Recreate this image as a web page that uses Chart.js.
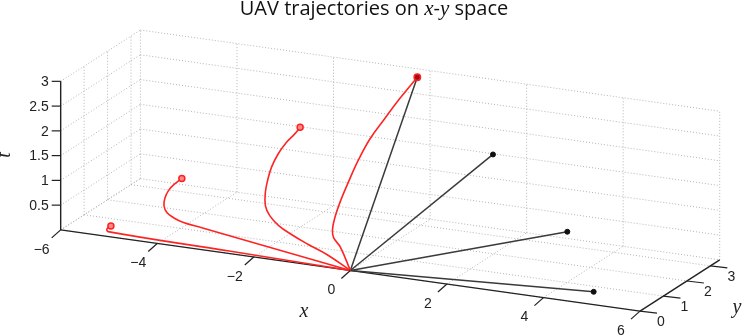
<!DOCTYPE html>
<html>
<head>
<meta charset="utf-8">
<script src="https://cdn.jsdelivr.net/npm/chart.js@4"></script>
<style>
html,body{margin:0;padding:0;background:#fff;}
#wrap{width:746px;height:336px;position:relative;}
</style>
</head>
<body>
<div id="wrap"><canvas id="chart"></canvas></div>
<script>
// axis limits and ticks
const xLim = [-6, 6], yLim = [0, 3.4], zLim = [0, 3];
const xTicks = [-6, -4, -2, 0, 2, 4, 6];
const yTicks = [0, 1, 2, 3];
const zTicks = [0.5, 1, 1.5, 2, 2.5, 3];
const zGrid = [0, 0.5, 1, 1.5, 2, 2.5, 3];

// red trajectories
const red1X = [0, -2.51, -5.02, -5.04, -4.96];
const red1Y = [0, 0, 0, 0, 0];
const red1Z = [0, 0.05, 0.10, 0.15, 0.22];

const red2X = [0, -1.73, -3.06, -3.47, -3.67, -3.80, -3.86, -3.84, -3.76, -3.63, -3.49];
const red2Y = [0, 0, 0, 0, 0, 0, 0, 0, 0, 0, 0];
const red2Z = [0, 0.25, 0.44, 0.50, 0.57, 0.65, 0.78, 0.94, 1.11, 1.26, 1.38];

const red3X = [0, -0.47, -0.88, -1.22, -1.49, -1.67, -1.76, -1.76, -1.71, -1.63, -1.49, -1.33, -1.16, -1.04];
const red3Y = [0, 0, 0, 0, 0, 0, 0, 0, 0, 0, 0, 0, 0, 0];
const red3Z = [0, 0.25, 0.41, 0.56, 0.71, 0.88, 1.07, 1.34, 1.60, 1.87, 2.16, 2.40, 2.59, 2.75];

const red4X = [0, -0.35, -0.59, -0.71, -0.81, -0.84, -0.82, -0.76, -0.66, -0.50, -0.32, -0.07];
const red4Y = [0, 0.3, 0.5, 0.7, 1.0, 1.3, 1.6, 1.9, 2.2, 2.5, 2.75, 3.0];
const red4Z = [0, 0.33, 0.43, 0.51, 0.64, 0.88, 1.18, 1.54, 1.90, 2.24, 2.58, 2.98];

// straight (black) trajectories: end points, all start at origin
const blackEndX = [4.70, 3.28, 1.74, -0.07];
const blackEndY = [0.7, 2.5, 2.5, 3.0];
const blackEndZ = [0, 0.47, 1.82, 2.98];

// view (orthographic projection onto the page)
const view = {ox: 350, oy: 274, xx: 49, xy: 7, yx: 23.8, yy: -15.6, zy: -51.2};
function proj(x, y, z) {
    return {x: view.ox + view.xx * x + view.yx * y, y: view.oy + view.xy * x + view.yy * y + view.zy * z};
}
function path(xs, ys, zs) {
    return xs.map((v, i) => proj(v, ys[i], zs[i]));
}

const datasets = [];
function seg(a, b, color, width, dash, order) {
    datasets.push({data: [proj(a[0], a[1], a[2]), proj(b[0], b[1], b[2])], borderColor: color,
        borderWidth: width, borderDash: dash, pointRadius: 0, showLine: true, order: order, tension: 0});
}

// grid on back wall, left wall and floor
const gridColor = '#b4b4b4';
xTicks.forEach(x => {
    seg([x, yLim[1], zLim[0]], [x, yLim[1], zLim[1]], gridColor, 1, [1, 2], 20);
    seg([x, yLim[0], zLim[0]], [x, yLim[1], zLim[0]], gridColor, 1, [1, 2], 20);
});
zGrid.forEach(z => {
    seg([xLim[0], yLim[1], z], [xLim[1], yLim[1], z], gridColor, 1, [1, 2], 20);
    seg([xLim[0], yLim[0], z], [xLim[0], yLim[1], z], gridColor, 1, [1, 2], 20);
});
yTicks.forEach(y => {
    seg([xLim[0], y, zLim[0]], [xLim[0], y, zLim[1]], gridColor, 1, [1, 2], 20);
    seg([xLim[0], y, zLim[0]], [xLim[1], y, zLim[0]], gridColor, 1, [1, 2], 20);
});

// axis lines
seg([xLim[0], yLim[0], zLim[0]], [xLim[1], yLim[0], zLim[0]], '#222', 1.4, [], 10);
seg([xLim[1], yLim[0], zLim[0]], [xLim[1], yLim[1], zLim[0]], '#222', 1.4, [], 10);
seg([xLim[0], yLim[0], zLim[0]], [xLim[0], yLim[0], zLim[1]], '#222', 1.4, [], 10);

// black straight lines
blackEndX.forEach((x, i) => seg([0, 0, 0], [x, blackEndY[i], blackEndZ[i]], '#3a3a3a', 1.5, [], 5));

// red curves
[[red1X, red1Y, red1Z], [red2X, red2Y, red2Z], [red3X, red3Y, red3Z], [red4X, red4Y, red4Z]].forEach(r => {
    datasets.push({data: path(r[0], r[1], r[2]), borderColor: '#ff2424', borderWidth: 1.6,
        pointRadius: 0, showLine: true, tension: 0.4, order: 2});
});

// end markers
datasets.push({data: [0, 1, 2].map(i => proj(blackEndX[i], blackEndY[i], blackEndZ[i])),
    pointRadius: 2.5, pointBackgroundColor: '#111', pointBorderColor: '#111', showLine: false, order: 1});
datasets.push({data: [[red1X, red1Y, red1Z], [red2X, red2Y, red2Z], [red3X, red3Y, red3Z]].map(r => {
        const n = r[0].length - 1;
        return proj(r[0][n], r[1][n], r[2][n]);
    }),
    pointRadius: 3, pointBackgroundColor: '#ff8a8a', pointBorderColor: '#ff2020', pointBorderWidth: 1.5,
    showLine: false, order: 0});
datasets.push({data: [proj(red4X[11], red4Y[11], red4Z[11])],
    pointRadius: 3.2, pointBackgroundColor: '#a01010', pointBorderColor: '#ff2020', pointBorderWidth: 1.5,
    showLine: false, order: 0});

const fmt = v => (v < 0 ? '\u2212' + Math.abs(v) : String(v));

const axisText = {
    id: 'axisText',
    afterDraw(chart) {
        const ctx = chart.ctx, sx = chart.scales.x, sy = chart.scales.y;
        const px = p => ({x: sx.getPixelForValue(p.x), y: sy.getPixelForValue(p.y)});
        ctx.save();
        ctx.strokeStyle = '#222';
        ctx.lineWidth = 1.2;
        ctx.fillStyle = '#222';
        ctx.font = '14px "Liberation Sans", Arial, sans-serif';
        // x ticks
        ctx.textAlign = 'center';
        ctx.textBaseline = 'middle';
        xTicks.forEach(t => {
            const p = px(proj(t, yLim[0], zLim[0]));
            ctx.beginPath(); ctx.moveTo(p.x, p.y); ctx.lineTo(p.x - 9, p.y + 8); ctx.stroke();
            ctx.fillText(fmt(t), p.x - 19, p.y + 20);
        });
        // y ticks
        yTicks.forEach(t => {
            const p = px(proj(xLim[1], t, zLim[0]));
            ctx.beginPath(); ctx.moveTo(p.x, p.y); ctx.lineTo(p.x + 17, p.y + 2); ctx.stroke();
            ctx.fillText(fmt(t), p.x + 21, p.y + 11);
        });
        // z ticks
        ctx.textAlign = 'right';
        zTicks.forEach(t => {
            const p = px(proj(xLim[0], yLim[0], t));
            ctx.beginPath(); ctx.moveTo(p.x, p.y); ctx.lineTo(p.x - 9, p.y); ctx.stroke();
            ctx.fillText(fmt(t), p.x - 12, p.y + 1);
        });
        // axis labels
        ctx.textAlign = 'center';
        ctx.font = 'italic 20px "Liberation Serif", serif';
        ctx.fillText('x', 304, 312);
        ctx.fillText('y', 737, 308);
        ctx.save();
        ctx.translate(5, 155);
        ctx.rotate(-Math.PI / 2);
        ctx.fillText('t', 0, 0);
        ctx.restore();
        // title with math part
        const sans = '20px "Open Sans", sans-serif', math = 'italic 21px "Liberation Serif", serif';
        const parts = [['UAV trajectories on ', sans], ['x', math], ['-', sans], ['y', math], [' space', sans]];
        let w = 0;
        parts.forEach(p => { ctx.font = p[1]; w += ctx.measureText(p[0]).width; });
        let x = 374 - w / 2;
        ctx.textAlign = 'left';
        ctx.textBaseline = 'alphabetic';
        ctx.fillStyle = '#111';
        parts.forEach(p => { ctx.font = p[1]; ctx.fillText(p[0], x, 15); x += ctx.measureText(p[0]).width; });
        ctx.restore();
    }
};

new Chart(document.getElementById('chart'), {
    type: 'scatter',
    data: {datasets: datasets},
    options: {
        responsive: true,
        maintainAspectRatio: false,
        animation: false,
        layout: {padding: 0},
        scales: {
            x: {type: 'linear', min: 0, max: 746, display: false},
            y: {type: 'linear', min: 0, max: 336, reverse: true, display: false}
        },
        plugins: {legend: {display: false}, tooltip: {enabled: false}, title: {display: false}}
    },
    plugins: [axisText]
});
</script>
</body>
</html>
